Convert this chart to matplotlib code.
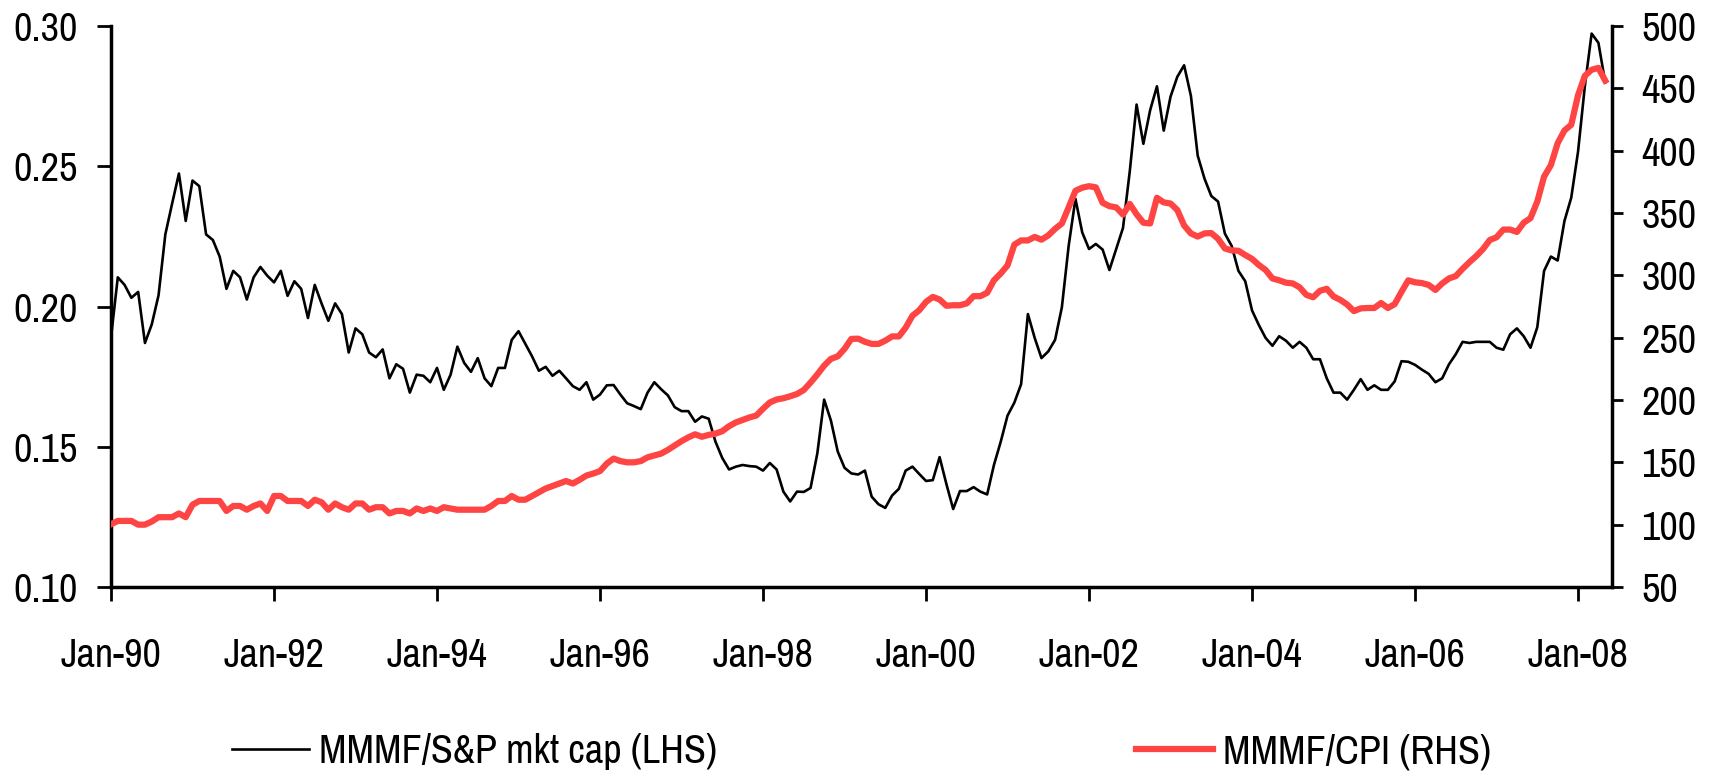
#            MMMF ratios chart
import numpy as np
import matplotlib
matplotlib.use("Agg")
import matplotlib.pyplot as plt
from matplotlib import font_manager

# pick a narrow font like the original (Arial Narrow look)
names = {f.name for f in font_manager.fontManager.ttflist}
font_name = 'Liberation Sans'
for cand in ['Arial Narrow', 'Liberation Sans Narrow', 'Archivo Narrow', 'Roboto Condensed', 'PT Sans Narrow']:
    if cand in names:
        font_name = cand
        break
font_size = 29 if font_name != 'Liberation Sans' else 22
plt.rcParams['font.family'] = [font_name, 'DejaVu Sans']

#                               DATA (monthly, Jan-90 .. May-08)
mmmf_sp = [
    0.189, 0.2104, 0.2077, 0.2031, 0.2052, 0.187, 0.1936, 0.204, 0.2257, 0.2367,
    0.2474, 0.2305, 0.2449, 0.2429, 0.2257, 0.2237, 0.2178, 0.2063, 0.2127, 0.2104,
    0.2025, 0.2104, 0.2141, 0.2110, 0.2086, 0.2127, 0.2038, 0.2090, 0.2063, 0.1959,
    0.2077, 0.2011, 0.1949, 0.2011, 0.1973, 0.1836, 0.1922, 0.1901, 0.1836, 0.1819,
    0.1847, 0.1744, 0.1794, 0.1778, 0.1693, 0.1757, 0.1753, 0.1730, 0.1781, 0.1703,
    0.1757, 0.1857, 0.1799, 0.1767, 0.1816, 0.1744, 0.1716, 0.1781, 0.1781, 0.1881,
    0.1912, 0.1867, 0.1822, 0.1771, 0.1785, 0.1753, 0.1771, 0.1744, 0.1716, 0.1703,
    0.1730, 0.1668, 0.1686, 0.1719, 0.1720, 0.1686, 0.1655, 0.1645, 0.1634, 0.1693,
    0.1730, 0.1705, 0.1683, 0.1641, 0.1627, 0.1627, 0.1589, 0.1608, 0.1600, 0.1518,
    0.1460, 0.1419, 0.1429, 0.1435, 0.1431, 0.1429, 0.1415, 0.1442, 0.1419, 0.1340,
    0.1305, 0.1340, 0.1339, 0.1353, 0.1477, 0.1668, 0.1593, 0.1483, 0.1425, 0.1405,
    0.1401, 0.1415, 0.1322, 0.1295, 0.1282, 0.1326, 0.1350, 0.1415, 0.1429, 0.1403,
    0.1378, 0.1381, 0.1463, 0.1367, 0.1278, 0.1342, 0.1342, 0.1356, 0.1340, 0.1330,
    0.1435, 0.1518, 0.1611, 0.1657, 0.1723, 0.1973, 0.1888, 0.1816, 0.1840, 0.1881,
    0.1997, 0.2216, 0.2384, 0.2264, 0.2205, 0.2223, 0.2203, 0.2130, 0.2205, 0.2280,
    0.2482, 0.2720, 0.2580, 0.2700, 0.2785, 0.2627, 0.2748, 0.2819, 0.2860, 0.2751,
    0.2538, 0.2456, 0.2394, 0.2374, 0.2260, 0.2216, 0.2127, 0.2090, 0.1986, 0.1934,
    0.1888, 0.1860, 0.1894, 0.1878, 0.1853, 0.1874, 0.1853, 0.1812, 0.1812, 0.1744,
    0.1693, 0.1693, 0.1668, 0.1703, 0.1741, 0.1703, 0.1719, 0.1703, 0.1703, 0.1733,
    0.1805, 0.1803, 0.1792, 0.1775, 0.1760, 0.1730, 0.1744, 0.1794, 0.1830, 0.1874,
    0.1870, 0.1874, 0.1874, 0.1874, 0.1853, 0.1846, 0.1901, 0.1922, 0.1894, 0.1853,
    0.1926, 0.2127, 0.2178, 0.2164, 0.2305, 0.2388, 0.2552, 0.2785, 0.2973, 0.2940,
    0.2799,
]

mmmf_cpi = [
    100.3, 103, 103, 103, 100, 100, 102.5, 106, 106, 106,
    109, 106, 116, 119, 119, 119, 119, 111, 115, 115,
    112, 115, 117, 111, 123, 123, 119, 119, 119, 115,
    120, 118, 112, 117, 114, 112, 117, 117, 112, 114,
    114, 109, 111, 111, 109, 113, 111, 113, 111, 114,
    113, 112, 112, 112, 112, 112, 115, 119, 119, 123,
    120, 120, 123, 126, 129, 131, 133, 135, 133, 136,
    139.4, 141, 143, 149, 153, 151, 150, 150, 151, 154,
    155.5, 157, 160, 163.5, 167, 170, 172.5, 170.5, 172, 173,
    175, 179, 182, 184, 186, 187.5, 193, 198, 200.4, 201.4,
    203, 204.8, 208, 214, 220.5, 227.6, 233, 235, 241, 249,
    249.2, 246.7, 245, 245, 247.6, 251, 251, 258, 267.6, 272,
    278.7, 282.7, 280.6, 275.6, 276, 276, 277.5, 283.3, 283.3, 286,
    296, 301.5, 308, 324.6, 328, 328, 330.8, 328.6, 332, 337.3,
    341.6, 354.5, 367.8, 370.3, 371.5, 370.6, 358.2, 355.5, 354.5, 348.7,
    357.3, 349, 342.2, 341.6, 362.2, 358.5, 357.6, 352.4, 340, 333.6,
    331.1, 333.6, 333.9, 329.3, 321.6, 320, 319.7, 316.3, 313.2, 308.3,
    304.3, 297.5, 296, 294.1, 293.5, 290.4, 284.3, 282.4, 287.6, 289.2,
    283, 280.3, 276.6, 271.3, 273.5, 273.8, 273.8, 277.8, 273.8, 276.9,
    286.7, 296, 294.4, 293.8, 292.3, 288.3, 293.5, 297.5, 299.4, 305.2,
    310.5, 315.4, 321, 328.3, 330.5, 336.7, 336.7, 334.8, 342.2, 345.9,
    359.2, 379.2, 388.4, 406, 416.2, 420.8, 444.5, 460, 464.9, 466.4,
    456.2,
]

tick_months = [0, 24, 48, 72, 96, 120, 144, 168, 192, 216]
tick_labels = ['Jan-90', 'Jan-92', 'Jan-94', 'Jan-96', 'Jan-98',
               'Jan-00', 'Jan-02', 'Jan-04', 'Jan-06', 'Jan-08']

x1 = np.arange(len(mmmf_sp))
x2 = np.arange(len(mmmf_cpi))

#                               PLOT
fig = plt.figure(figsize=(17.13, 7.78), dpi=100)
ax = fig.add_axes([111/1713, 1 - 587/778, (1612 - 111)/1713, (587 - 26)/778])
ax2 = ax.twinx()

line1, = ax.plot(x1, mmmf_sp, c='black', lw=1.9, label='MMMF/S&P mkt cap (LHS)')
line2, = ax2.plot(x2, mmmf_cpi, c='#ff4444', lw=4.5, label='MMMF/CPI (RHS)')

ax.set_xlim(0, 221)
ax.set_ylim(0.10, 0.30)
ax2.set_ylim(50, 500)
ax.set_yticks([0.10, 0.15, 0.20, 0.25, 0.30])
ax.set_yticklabels(['0.10', '0.15', '0.20', '0.25', '0.30'])
ax2.set_yticks(np.arange(50, 501, 50))
ax.set_xticks(tick_months)
ax.set_xticklabels(tick_labels)

for a in (ax, ax2):
    a.spines['top'].set_visible(False)
    for s in a.spines.values():
        s.set_linewidth(2.5)
ax.spines['right'].set_visible(False)
ax2.spines['left'].set_visible(False)
ax2.spines['bottom'].set_visible(False)

ax.tick_params(axis='y', direction='out', length=10, width=2, pad=14, labelsize=font_size)
ax.tick_params(axis='x', direction='out', length=10, width=2, pad=26, labelsize=font_size)
ax2.tick_params(axis='y', direction='out', length=8, width=2, pad=13, labelsize=font_size)

# legend split in two parts like the original
fig.legend(handles=[line1], loc='center left', bbox_to_anchor=(232/1713, 1 - 752/778),
           frameon=False, fontsize=font_size, handlelength=1.9, handletextpad=0.25,
           borderpad=0, borderaxespad=0)
fig.legend(handles=[line2], loc='center left', bbox_to_anchor=(1136/1713, 1 - 752/778),
           frameon=False, fontsize=font_size, handlelength=1.9, handletextpad=0.25,
           borderpad=0, borderaxespad=0)

plt.savefig('out.png', dpi=100)
